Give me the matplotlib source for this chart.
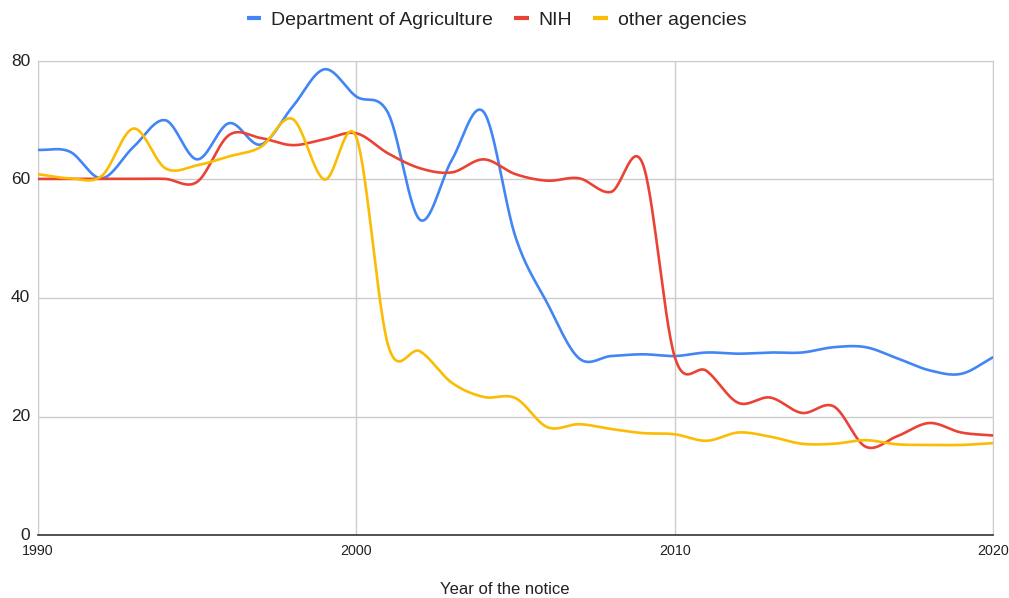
import numpy as np
import matplotlib
matplotlib.use('Agg')
import matplotlib.pyplot as plt
import matplotlib.transforms as mtransforms
from matplotlib.lines import Line2D

plt.rcParams['font.family'] = ['Liberation Sans', 'DejaVu Sans']

# data
years = list(range(1990, 2021))
agriculture = [65.0, 64.7, 60.2, 65.5, 70.0, 63.4, 69.5, 65.9, 72.3, 78.6,
               74.0, 71.2, 53.2, 63.3, 71.4, 50.3, 39.1, 29.8, 30.2, 30.5,
               30.2, 30.8, 30.6, 30.8, 30.8, 31.7, 31.7, 29.8, 27.8, 27.2, 30.0]
nih = [60.1, 60.1, 60.1, 60.1, 60.1, 59.6, 67.5, 67.0, 65.8, 66.8,
       67.8, 64.4, 61.9, 61.2, 63.4, 60.9, 59.8, 60.2, 57.9, 62.6,
       30.1, 27.7, 22.3, 23.2, 20.6, 21.7, 14.9, 16.7, 18.9, 17.3, 16.8]
other = [60.9, 60.2, 60.6, 68.6, 61.9, 62.4, 63.9, 65.5, 70.2, 60.0,
         67.1, 32.0, 31.0, 25.7, 23.3, 23.1, 18.2, 18.7, 17.9, 17.2,
         17.0, 15.9, 17.3, 16.6, 15.4, 15.4, 16.0, 15.3, 15.2, 15.2, 15.5]

series_names = ['Department of Agriculture', 'NIH', 'other agencies']
series_colors = ['#4285F4', '#EA4335', '#FBBC04']
y_ticks = [0, 20, 40, 60, 80]
x_ticks = [1990, 2000, 2010, 2020]


def smooth(x, y, n=30):
    # catmull-rom style curve through the points, like the sheets "smooth" option
    x = np.asarray(x, float)
    y = np.asarray(y, float)
    m = np.zeros_like(y)
    m[1:-1] = (y[2:] - y[:-2]) / (x[2:] - x[:-2])
    m[0] = (y[1] - y[0]) / (x[1] - x[0])
    m[-1] = (y[-1] - y[-2]) / (x[-1] - x[-2])
    xs, ys = [], []
    for i in range(len(x) - 1):
        h = x[i + 1] - x[i]
        t = np.linspace(0, 1, n, endpoint=False)
        h00 = 2 * t**3 - 3 * t**2 + 1
        h10 = t**3 - 2 * t**2 + t
        h01 = -2 * t**3 + 3 * t**2
        h11 = t**3 - t**2
        xs.append(x[i] + t * h)
        ys.append(h00 * y[i] + h10 * h * m[i] + h01 * y[i + 1] + h11 * h * m[i + 1])
    xs.append([x[-1]])
    ys.append([y[-1]])
    return np.concatenate(xs), np.concatenate(ys)


fig = plt.figure(figsize=(10.09, 5.98), dpi=100)
ax = fig.add_axes([38 / 1009, 63 / 598, (993 - 38) / 1009, (535 - 61) / 598])

for vals, color in zip([agriculture, nih, other], series_colors):
    sx, sy = smooth(years, vals)
    ax.plot(sx, sy, color=color, lw=1.9, solid_capstyle='round', zorder=3)

ax.set_xlim(1990, 2020)
ax.set_ylim(0, 80)
ax.set_xticks(x_ticks)
ax.set_yticks(y_ticks)
ax.grid(True, color='#cccccc', lw=1)
ax.set_axisbelow(True)
for side in ['left', 'right', 'top']:
    ax.spines[side].set_color('#cccccc')
ax.spines['bottom'].set_color('#333333')
ax.spines['bottom'].set_linewidth(1.2)
ax.tick_params(length=0, colors='#222222')
ax.tick_params(axis='x', pad=6.5, labelsize=10.3)
ax.tick_params(axis='y', pad=5.5, labelsize=12.5)

# y labels sit a touch above their gridlines
shift = mtransforms.ScaledTranslation(0, 1.5 / 100, fig.dpi_scale_trans)
for lbl in ax.get_yticklabels():
    lbl.set_transform(lbl.get_transform() + shift)

fig.text(0.5, 0.0134, 'Year of the notice', ha='center', va='center',
         fontsize=12, color='#222222')

handles = [Line2D([0], [0], color=c, lw=3, solid_capstyle='butt') for c in series_colors]
fig.legend(handles, series_names, loc='center', bbox_to_anchor=(0.492, 0.967),
           ncol=3, frameon=False, fontsize=14, handlelength=0.75,
           handletextpad=0.5, columnspacing=1.1, labelcolor='#222222')

fig.savefig('out.png', dpi=100)
